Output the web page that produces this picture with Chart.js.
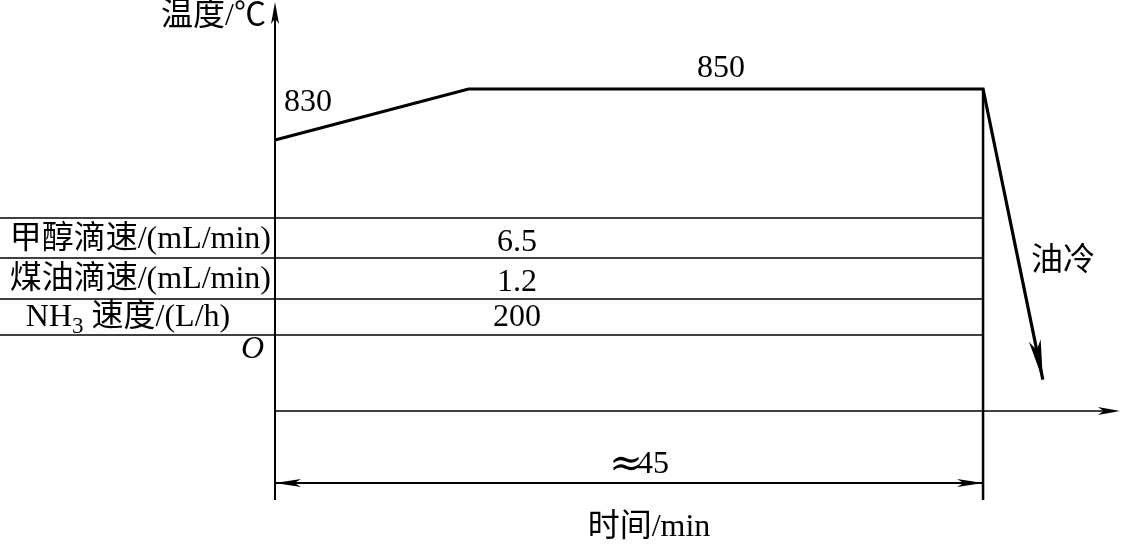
<!DOCTYPE html>
<html>
<head>
<meta charset="utf-8">
<script src="https://cdn.jsdelivr.net/npm/chart.js@4"></script>
<style>
  html, body { margin: 0; padding: 0; background: #fff; }
  #caixa { width: 1133px; height: 546px; position: relative; }
</style>
</head>
<body>
<div id="caixa"><canvas id="grafico"></canvas></div>
<script>
// dados do processo (tempo em min, temperatura em °C)
const tempo = [0, 12.3, 45, 48.8];
const temperatura = [830, 850, 850, 736];
const rotulosTemp = ['830', '850'];
const duracao = 45;

// tabela de vazões
const parametros = ['甲醇滴速/(mL/min)', '煤油滴速/(mL/min)', 'NH3 速度/(L/h)'];
const valores = ['6.5', '1.2', '200'];

const FONTE = '32px "Liberation Serif", "Noto Sans CJK SC", serif';
const FONTE_SUB = '23px "Liberation Serif", serif';

function seta(ctx, x1, y1, x2, y2, comp, larg) {
  const ang = Math.atan2(y2 - y1, x2 - x1);
  ctx.save();
  ctx.translate(x2, y2);
  ctx.rotate(ang);
  ctx.beginPath();
  ctx.moveTo(0, 0);
  ctx.lineTo(-comp, -larg);
  ctx.lineTo(-comp * 0.75, 0);
  ctx.lineTo(-comp, larg);
  ctx.closePath();
  ctx.fillStyle = '#000';
  ctx.fill();
  ctx.restore();
}

function linha(ctx, x1, y1, x2, y2, w) {
  ctx.beginPath();
  ctx.lineWidth = w;
  ctx.moveTo(x1, y1);
  ctx.lineTo(x2, y2);
  ctx.stroke();
}

const desenhoDiagrama = {
  id: 'desenhoDiagrama',
  beforeDatasetsDraw(chart) {
    const ctx = chart.ctx;
    const sx = chart.scales.x;
    const x0 = sx.getPixelForValue(0);
    const xf = sx.getPixelForValue(duracao);
    ctx.save();
    ctx.strokeStyle = '#000';

    // eixo da temperatura
    linha(ctx, x0, 500, x0, 8, 2);
    seta(ctx, x0, 40, x0, 2, 22, 4);

    // eixo do tempo
    linha(ctx, x0, 411, 1110, 411, 1.5);
    seta(ctx, 1000, 411, 1120, 411, 22, 4);

    // fim do processo
    linha(ctx, xf, 89, xf, 500, 2.5);

    // linhas da tabela
    [218, 258, 299, 335].forEach(y => linha(ctx, 0, y, xf, y, 1.5));

    // cota de duração
    linha(ctx, x0, 483, xf, 483, 2);
    seta(ctx, xf, 483, x0, 483, 26, 4);
    seta(ctx, x0, 483, xf, 483, 26, 4);
    ctx.restore();
  },
  afterDatasetsDraw(chart) {
    const ctx = chart.ctx;
    const pts = chart.getDatasetMeta(0).data;
    const a = pts[pts.length - 2], b = pts[pts.length - 1];
    seta(ctx, a.x, a.y, b.x, b.y, 40, 6);
  },
  afterDraw(chart) {
    const ctx = chart.ctx;
    const sx = chart.scales.x, sy = chart.scales.y;
    ctx.save();
    ctx.fillStyle = '#000';
    ctx.font = FONTE;
    ctx.textBaseline = 'middle';

    ctx.textAlign = 'right';
    ctx.fillText('温度/℃', 266, 17);

    ctx.textAlign = 'left';
    ctx.fillText(rotulosTemp[0], sx.getPixelForValue(tempo[0]) + 9, sy.getPixelForValue(temperatura[0]) - 37);
    ctx.textAlign = 'center';
    ctx.fillText(rotulosTemp[1], 721, sy.getPixelForValue(temperatura[1]) - 20);

    // tabela
    const ys = [240, 280, 318];
    parametros.forEach((p, i) => {
      if (p.startsWith('NH3')) {
        const resto = p.slice(3);
        ctx.textAlign = 'left';
        const wNH = ctx.measureText('NH').width;
        ctx.font = FONTE_SUB;
        const w3 = ctx.measureText('3').width;
        ctx.font = FONTE;
        const wR = ctx.measureText(resto).width;
        const x = 128 - (wNH + w3 + wR) / 2;
        ctx.fillText('NH', x, ys[i]);
        ctx.font = FONTE_SUB;
        ctx.fillText('3', x + wNH, ys[i] + 9);
        ctx.font = FONTE;
        ctx.fillText(resto, x + wNH + w3, ys[i]);
      } else {
        ctx.textAlign = 'right';
        ctx.fillText(p, 271, ys[i]);
      }
      ctx.textAlign = 'center';
      ctx.fillText(valores[i], 517, ys[i] + (i < 2 ? 3 : 0));
    });

    ctx.font = 'italic 32px "Liberation Serif", serif';
    ctx.textAlign = 'right';
    ctx.fillText('O', 264, 350);

    ctx.font = FONTE;
    ctx.textAlign = 'center';
    ctx.fillText('油冷', 1063, 262);
    ctx.fillText('时间/min', 649, 528);
    ctx.fillText(String(duracao), 653, 465);
    ctx.font = '40px "DejaVu Serif", serif';
    ctx.fillText('≈', 626, 466);
    ctx.restore();
  }
};

new Chart(document.getElementById('grafico'), {
  type: 'line',
  data: {
    datasets: [{
      data: tempo.map((t, i) => ({ x: t, y: temperatura[i] })),
      borderColor: '#000',
      borderWidth: 3.2,
      pointRadius: 0,
      tension: 0,
      fill: false
    }]
  },
  options: {
    responsive: true,
    maintainAspectRatio: false,
    animation: false,
    layout: { padding: 0 },
    plugins: { legend: { display: false }, tooltip: { enabled: false } },
    scales: {
      x: { type: 'linear', display: false, min: -17.479, max: 54.53 },
      y: { type: 'linear', display: false, min: 670.78, max: 884.9 }
    }
  },
  plugins: [desenhoDiagrama]
});
</script>
</body>
</html>
